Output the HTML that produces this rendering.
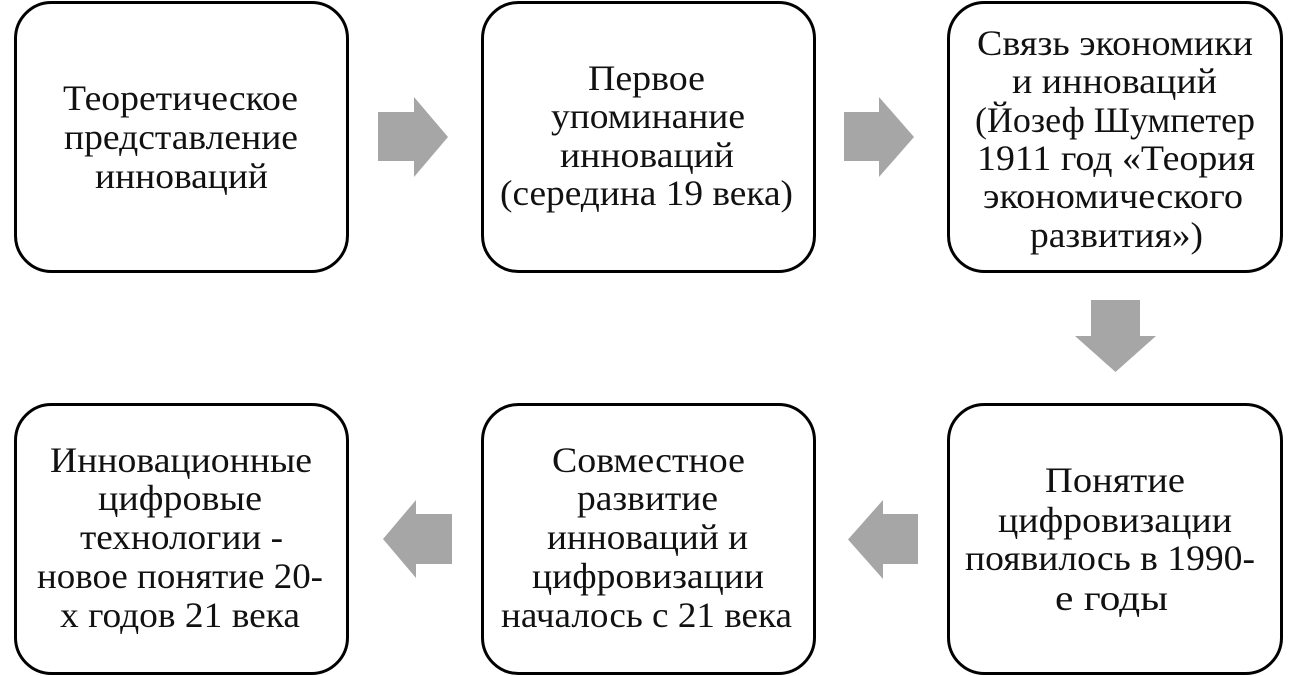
<!DOCTYPE html>
<html>
<head>
<meta charset="utf-8">
<style>
  html, body { margin:0; padding:0; background:#fff; }
  body { width:1297px; height:676px; overflow:hidden; }
  svg { display:block; }
  text { font-family: "Liberation Serif", "Noto Serif CJK SC", serif; font-size:36px; fill:#111; }
</style>
</head>
<body>
<svg width="1297" height="676" viewBox="0 0 1297 676" xmlns="http://www.w3.org/2000/svg">
  <g fill="#fff" stroke="#000" stroke-width="3">
    <rect x="15.5" y="2.5" width="332" height="269" rx="36" ry="36"/>
    <rect x="482.5" y="2.5" width="332" height="269" rx="36" ry="36"/>
    <rect x="948.5" y="2.5" width="333" height="269" rx="36" ry="36"/>
    <rect x="15.5" y="404.5" width="332" height="269" rx="36" ry="36"/>
    <rect x="482.5" y="404.5" width="332" height="269" rx="36" ry="36"/>
    <rect x="948.5" y="404.5" width="333" height="269" rx="36" ry="36"/>
  </g>
  <g fill="#a6a6a6">
    <polygon points="378,112 414,112 414,97 448,137 414,177 414,161 378,161"/>
    <polygon points="844,112 879,112 879,97 914,137 879,177 879,161 844,161"/>
    <polygon points="1091,300 1140,300 1140,336 1156,336 1115.5,372 1075,336 1091,336"/>
    <polygon points="452,514 416,514 416,500 383,539 416,578 416,564 452,564"/>
    <polygon points="918,514 883,514 883,500 848,539.5 883,579 883,564 918,564"/>
  </g>
  <g text-anchor="middle">
    <!-- Box 1 -->
    <text x="180.5" y="110" textLength="235" lengthAdjust="spacingAndGlyphs">Теоретическое</text>
    <text x="181" y="149" textLength="234" lengthAdjust="spacingAndGlyphs">представление</text>
    <text x="181.5" y="188" textLength="173" lengthAdjust="spacingAndGlyphs">инноваций</text>
    <!-- Box 2 -->
    <text x="646.5" y="90" textLength="117" lengthAdjust="spacingAndGlyphs">Первое</text>
    <text x="648" y="128" textLength="194" lengthAdjust="spacingAndGlyphs">упоминание</text>
    <text x="647" y="167" textLength="174" lengthAdjust="spacingAndGlyphs">инноваций</text>
    <text x="646.5" y="205" textLength="293" lengthAdjust="spacingAndGlyphs">(середина 19 века)</text>
    <!-- Box 3 -->
    <text x="1115" y="55" textLength="276" lengthAdjust="spacingAndGlyphs">Связь экономики</text>
    <text x="1114.5" y="93" textLength="205" lengthAdjust="spacingAndGlyphs">и инноваций</text>
    <text x="1115" y="132" textLength="280" lengthAdjust="spacingAndGlyphs">(Йозеф Шумпетер</text>
    <text x="1116" y="170" textLength="278" lengthAdjust="spacingAndGlyphs">1911 год «Теория</text>
    <text x="1113" y="208" textLength="260" lengthAdjust="spacingAndGlyphs">экономического</text>
    <text x="1116.5" y="247" textLength="173" lengthAdjust="spacingAndGlyphs">развития»)</text>
    <!-- Box 4 -->
    <text x="181" y="472" textLength="262" lengthAdjust="spacingAndGlyphs">Инновационные</text>
    <text x="180" y="510" textLength="164" lengthAdjust="spacingAndGlyphs">цифровые</text>
    <text x="181.5" y="549" textLength="203" lengthAdjust="spacingAndGlyphs">технологии -</text>
    <text x="180" y="588" textLength="286" lengthAdjust="spacingAndGlyphs">новое понятие 20-</text>
    <text x="180" y="627" textLength="240" lengthAdjust="spacingAndGlyphs">х годов 21 века</text>
    <!-- Box 5 -->
    <text x="648.5" y="472" textLength="193" lengthAdjust="spacingAndGlyphs">Совместное</text>
    <text x="647.5" y="510" textLength="141" lengthAdjust="spacingAndGlyphs">развитие</text>
    <text x="647.5" y="549" textLength="201" lengthAdjust="spacingAndGlyphs">инноваций и</text>
    <text x="648" y="588" textLength="232" lengthAdjust="spacingAndGlyphs">цифровизации</text>
    <text x="646.5" y="627" textLength="291" lengthAdjust="spacingAndGlyphs">началось с 21 века</text>
    <!-- Box 6 -->
    <text x="1115" y="492" textLength="140" lengthAdjust="spacingAndGlyphs">Понятие</text>
    <text x="1115" y="532" textLength="234" lengthAdjust="spacingAndGlyphs">цифровизации</text>
    <text x="1110" y="570" textLength="290" lengthAdjust="spacingAndGlyphs">появилось в 1990-</text>
    <text x="1111.5" y="610" textLength="113" lengthAdjust="spacingAndGlyphs">е годы</text>
  </g>
</svg>
</body>
</html>
